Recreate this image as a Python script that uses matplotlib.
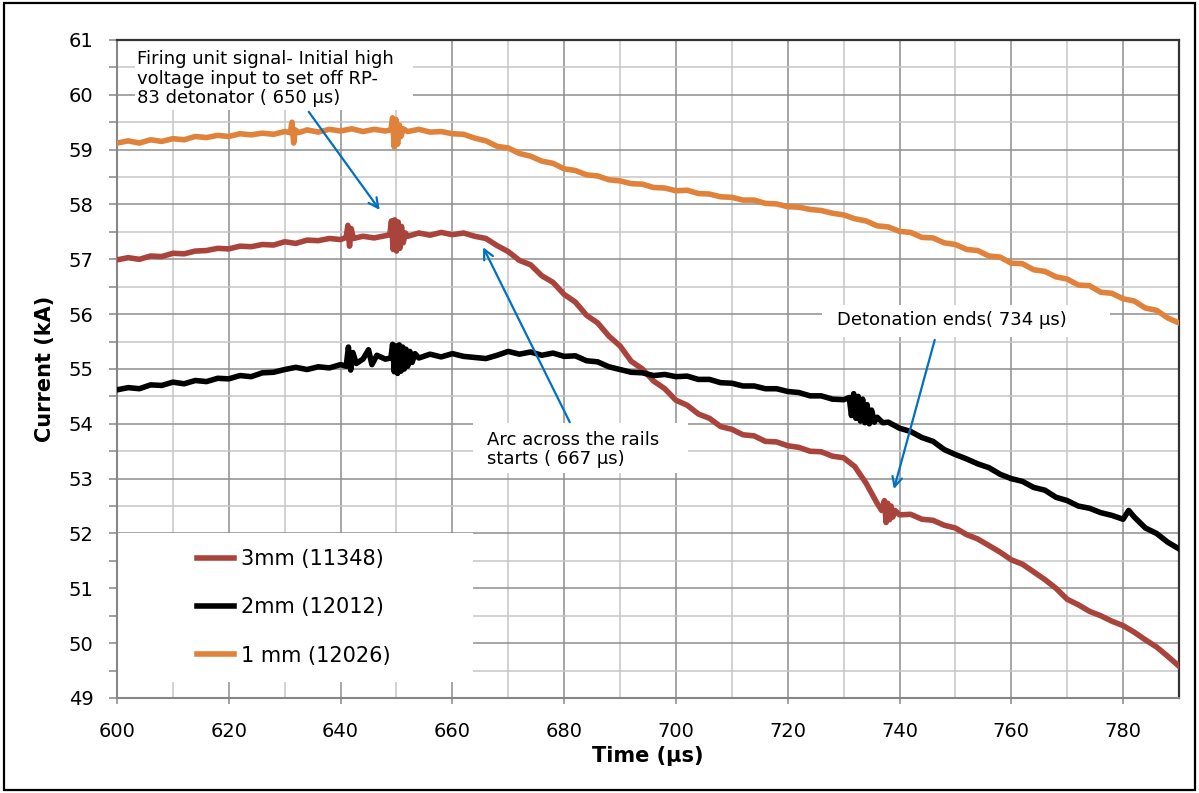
import matplotlib
matplotlib.use("Agg")
import matplotlib.pyplot as plt
from matplotlib.patches import Rectangle
from matplotlib.ticker import MultipleLocator

# ---- data (time in us, current in kA) ----
t_3mm = [600, 602, 604, 606, 608, 610, 612, 614, 616, 618, 620, 622, 624, 626, 628, 630,
         632, 634, 636, 638, 640, 641, 641.3, 641.6, 641.9, 642.3, 644, 646, 648,
         648.8, 649.1, 649.4, 649.7, 650.0, 650.3, 650.6, 650.9, 651.2, 651.6, 652,
         654, 656, 658, 660, 662, 664, 666, 668, 670, 672, 674, 676, 678, 680, 682,
         684, 686, 688, 690, 692, 694, 696, 698, 700, 702, 704, 706, 708, 710, 712,
         714, 716, 718, 720, 722, 724, 726, 728, 730, 732, 734, 736, 736.8, 737.3,
         737.6, 737.9, 738.2, 738.5, 738.8, 739.2, 740, 742, 744, 746, 748, 750, 752,
         754, 756, 758, 760, 762, 764, 766, 768, 770, 772, 774, 776, 778, 780, 782,
         784, 786, 788, 790]
i_3mm = [56.99, 57.03, 57.00, 57.06, 57.05, 57.11, 57.10, 57.15, 57.16, 57.20, 57.19, 57.24,
         57.23, 57.27, 57.26, 57.32, 57.29, 57.35, 57.34, 57.38, 57.36, 57.40, 57.62, 57.24,
         57.56, 57.38, 57.42, 57.39, 57.43, 57.45, 57.70, 57.18, 57.72, 57.15, 57.68, 57.20,
         57.60, 57.30, 57.48, 57.42, 57.48, 57.44, 57.49, 57.45, 57.48, 57.42, 57.38, 57.25,
         57.14, 56.98, 56.90, 56.70, 56.58, 56.36, 56.22, 55.98, 55.84, 55.60, 55.42, 55.14,
         55.00, 54.78, 54.64, 54.43, 54.34, 54.18, 54.10, 53.95, 53.90, 53.80, 53.78, 53.68,
         53.67, 53.60, 53.57, 53.50, 53.49, 53.41, 53.38, 53.22, 52.92, 52.55, 52.42, 52.60,
         52.20, 52.55, 52.25, 52.50, 52.30, 52.42, 52.34, 52.35, 52.26, 52.24, 52.15, 52.10,
         51.98, 51.90, 51.78, 51.66, 51.52, 51.44, 51.30, 51.16, 51.00, 50.80, 50.70, 50.58,
         50.50, 50.40, 50.32, 50.20, 50.06, 49.93, 49.76, 49.58]

t_2mm = [600, 602, 604, 606, 608, 610, 612, 614, 616, 618, 620, 622, 624, 626, 628, 630,
         632, 634, 636, 638, 640, 641, 641.4, 641.8, 642.2, 642.8, 644, 645, 645.6, 646.5,
         648, 649, 649.3, 649.6, 649.9, 650.2, 650.5, 650.8, 651.1, 651.4, 651.7, 652.0,
         652.4, 652.8, 653.3, 654, 656, 658, 660, 662, 664, 666, 668, 670, 672, 674, 676,
         678, 680, 682, 684, 686, 688, 690, 692, 694, 696, 698, 700, 702, 704, 706, 708,
         710, 712, 714, 716, 718, 720, 722, 724, 726, 728, 730, 731, 731.4, 731.8, 732.2,
         732.6, 733, 733.4, 733.8, 734.2, 734.6, 735, 735.5, 736, 737, 738, 740, 742, 744,
         746, 748, 750, 752, 754, 756, 758, 760, 762, 764, 766, 768, 770, 772, 774, 776,
         778, 780, 781, 782, 784, 786, 788, 790]
i_2mm = [54.62, 54.66, 54.64, 54.71, 54.70, 54.76, 54.73, 54.79, 54.77, 54.83, 54.82, 54.88,
         54.86, 54.93, 54.94, 54.99, 55.03, 54.99, 55.04, 55.02, 55.08, 55.05, 55.40, 54.98,
         55.30, 55.10, 55.18, 55.35, 55.08, 55.25, 55.18, 55.20, 55.45, 54.95, 55.42, 54.92,
         55.44, 54.96, 55.40, 55.00, 55.36, 55.05, 55.32, 55.12, 55.28, 55.20, 55.27, 55.22,
         55.28, 55.23, 55.21, 55.19, 55.25, 55.32, 55.27, 55.31, 55.25, 55.29, 55.23, 55.24,
         55.15, 55.13, 55.04, 54.99, 54.94, 54.93, 54.88, 54.90, 54.86, 54.87, 54.81, 54.81,
         54.75, 54.74, 54.69, 54.69, 54.64, 54.64, 54.59, 54.57, 54.51, 54.51, 54.45, 54.44,
         54.48, 54.15, 54.55, 54.10, 54.50, 54.05, 54.45, 54.02, 54.35, 54.00, 54.25, 54.03,
         54.12, 54.02, 54.03, 53.92, 53.86, 53.75, 53.68, 53.53, 53.44, 53.36, 53.27, 53.20,
         53.08, 53.00, 52.95, 52.84, 52.79, 52.66, 52.60, 52.50, 52.46, 52.38, 52.33, 52.26,
         52.42, 52.30, 52.10, 52.00, 51.84, 51.72]

t_1mm = [600, 602, 604, 606, 608, 610, 612, 614, 616, 618, 620, 622, 624, 626, 628, 630,
         631, 631.3, 631.6, 631.9, 632.5, 634, 636, 638, 640, 642, 644, 646, 648, 649,
         649.3, 649.6, 649.9, 650.2, 650.5, 650.8, 651.2, 652, 654, 656, 658, 660, 662,
         664, 666, 668, 670, 672, 674, 676, 678, 680, 682, 684, 686, 688, 690, 692, 694,
         696, 698, 700, 702, 704, 706, 708, 710, 712, 714, 716, 718, 720, 722, 724, 726,
         728, 730, 732, 734, 736, 738, 740, 742, 744, 746, 748, 750, 752, 754, 756, 758,
         760, 762, 764, 766, 768, 770, 772, 774, 776, 778, 780, 782, 784, 786, 788, 790]
i_1mm = [59.12, 59.16, 59.12, 59.18, 59.15, 59.20, 59.18, 59.24, 59.22, 59.26, 59.24, 59.29,
         59.27, 59.30, 59.28, 59.33, 59.31, 59.50, 59.12, 59.36, 59.31, 59.36, 59.32, 59.37,
         59.34, 59.38, 59.33, 59.37, 59.34, 59.36, 59.58, 59.05, 59.55, 59.10, 59.45, 59.24,
         59.38, 59.33, 59.37, 59.32, 59.33, 59.29, 59.28, 59.21, 59.16, 59.06, 59.03, 58.93,
         58.88, 58.79, 58.75, 58.65, 58.62, 58.54, 58.52, 58.45, 58.43, 58.38, 58.37, 58.31,
         58.30, 58.25, 58.26, 58.20, 58.19, 58.14, 58.13, 58.08, 58.08, 58.02, 58.01, 57.96,
         57.95, 57.91, 57.89, 57.84, 57.81, 57.74, 57.70, 57.61, 57.59, 57.51, 57.49, 57.40,
         57.39, 57.30, 57.27, 57.18, 57.16, 57.06, 57.04, 56.93, 56.92, 56.81, 56.78, 56.68,
         56.64, 56.53, 56.52, 56.40, 56.38, 56.28, 56.24, 56.11, 56.07, 55.93, 55.84]

labels = ["3mm (11348)", "2mm (12012)", "1 mm (12026)"]
colors = ["#A9443D", "#000000", "#E0823A"]

fig = plt.figure(figsize=(11.99, 7.93), dpi=100)
ax = fig.add_axes([0.0976, 0.1198, 0.8857, 0.8298])

# outer frame of the chart area
fig.patches.append(Rectangle((0.003, 0.004), 0.994, 0.992, transform=fig.transFigure,
                             fill=False, edgecolor="black", linewidth=1.6))

for t, i, lab, col in zip([t_3mm, t_2mm, t_1mm], [i_3mm, i_2mm, i_1mm], labels, colors):
    ax.plot(t, i, color=col, lw=4.0, label=lab, zorder=3, solid_joinstyle="round")

ax.set_xlim(600, 790)
ax.set_ylim(49, 61)
ax.xaxis.set_major_locator(MultipleLocator(20))
ax.xaxis.set_minor_locator(MultipleLocator(10))
ax.yaxis.set_major_locator(MultipleLocator(1))
ax.yaxis.set_minor_locator(MultipleLocator(0.5))

ax.set_axisbelow(True)
ax.grid(which="major", color="#8E8E8E", lw=1.1)
ax.grid(which="minor", color="#C6C6C6", lw=1.1)

ax.tick_params(axis="y", which="both", direction="out", length=6, width=1.1,
               color="#868686", labelsize=14, pad=11)
ax.tick_params(axis="x", which="major", direction="out", length=4, width=1.1,
               color="#868686", labelsize=14, pad=13)
ax.tick_params(axis="x", which="minor", length=0)

for s in ["left", "bottom"]:
    ax.spines[s].set_color("#868686")
    ax.spines[s].set_linewidth(1.5)
for s in ["top", "right"]:
    ax.spines[s].set_color("#333333")
    ax.spines[s].set_linewidth(1.6)

ax.set_xlabel("Time (µs)", fontsize=15, fontweight="bold", labelpad=4)
ax.set_ylabel("Current (kA)", fontsize=15, fontweight="bold", labelpad=10)

# white boxes (legend area and text boxes) covering the grid
for (x0, y0, w, h) in [(0.0, 0.0243, 0.3352, 0.2265),
                       (0.0169, 0.8936, 0.2618, 0.1064),
                       (0.3352, 0.3419, 0.2025, 0.0760),
                       (0.6638, 0.5486, 0.2712, 0.0487)]:
    ax.add_patch(Rectangle((x0, y0), w, h, transform=ax.transAxes,
                           facecolor="white", edgecolor="none", zorder=2))

leg = ax.legend(loc="upper left", bbox_to_anchor=(0.0753, 0.226), frameon=False,
                fontsize=15, handlelength=1.8, handletextpad=0.3, labelspacing=1.35,
                borderpad=0, borderaxespad=0)
leg.set_zorder(5)

ax.text(0.0188, 0.984, "Firing unit signal- Initial high\nvoltage input to set off RP-\n"
        "83 detonator ( 650 µs)", transform=ax.transAxes, fontsize=13,
        va="top", ha="left", linespacing=1.08, zorder=6)
ax.text(0.348, 0.406, "Arc across the rails\nstarts ( 667 µs)", transform=ax.transAxes,
        fontsize=13, va="top", ha="left", linespacing=1.08, zorder=6)
ax.text(0.678, 0.588, "Detonation ends( 734 µs)", transform=ax.transAxes,
        fontsize=13, va="top", ha="left", zorder=6)

arrow = dict(arrowstyle="->,head_length=0.7,head_width=0.35", color="#0070C0", lw=1.6,
             shrinkA=0, shrinkB=0)
ax.annotate("", xy=(647.0, 57.9), xytext=(634.3, 59.69), arrowprops=arrow, zorder=7)
ax.annotate("", xy=(665.5, 57.22), xytext=(681.0, 54.03), arrowprops=arrow, zorder=7)
ax.annotate("", xy=(739.0, 52.81), xytext=(746.3, 55.53), arrowprops=arrow, zorder=7)

fig.savefig("out.png", dpi=100)
